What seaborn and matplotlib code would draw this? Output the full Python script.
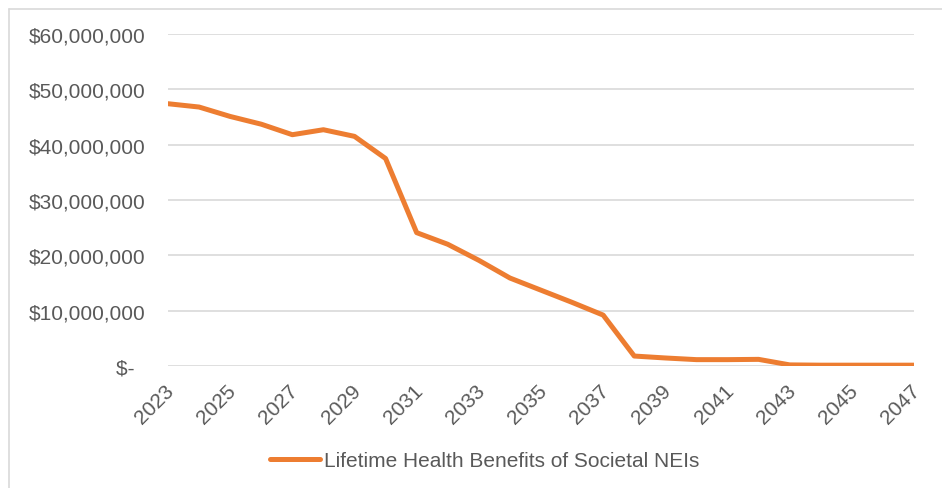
import matplotlib
matplotlib.use("Agg")
import matplotlib.pyplot as plt
import matplotlib.transforms as mtransforms
from matplotlib.lines import Line2D
import seaborn as sns
import pandas as pd

years = list(range(2023, 2048))
benefits = [47.4e6, 46.8e6, 45.1e6, 43.7e6, 41.8e6, 42.7e6, 41.5e6, 37.5e6,
            24.1e6, 22.0e6, 19.1e6, 15.9e6, 13.7e6, 11.5e6, 9.2e6, 1.8e6,
            1.45e6, 1.15e6, 1.15e6, 1.2e6, 0.2e6, 0.15e6, 0.15e6, 0.15e6, 0.15e6]
series_name = "Lifetime Health Benefits of Societal NEIs"
y_ticks = [0, 10e6, 20e6, 30e6, 40e6, 50e6, 60e6]
y_labels = ["$-  ", "$10,000,000", "$20,000,000", "$30,000,000",
            "$40,000,000", "$50,000,000", "$60,000,000"]
x_ticks = list(range(2023, 2048, 2))

sns.set_style("white")
plt.rcParams['font.family'] = ['Liberation Sans', 'DejaVu Sans']

df = pd.DataFrame({"Year": years, "Value": benefits, "Series": series_name})

fig = plt.figure(figsize=(9.42, 4.89), dpi=100)
ax = fig.add_axes([168/942, 1-367/489, (914-168)/942, (367-35)/489])

sns.lineplot(data=df, x="Year", y="Value", hue="Series", palette=["#ED7D31"],
             linewidth=3.6, ax=ax, legend=False)

ax.set_xlim(2023, 2047)
ax.set_ylim(0, 60e6)
ax.set_yticks(y_ticks)
ax.set_yticklabels(y_labels)
ax.set_xticks(x_ticks)
ax.set_xticklabels([str(x) for x in x_ticks], rotation=45, ha='right',
                   va='center', rotation_mode='anchor')
ax.set_xlabel("")
ax.set_ylabel("")
ax.grid(axis='y', color='#d9d9d9', linewidth=1.2)
ax.grid(axis='x', visible=False)
for s in ax.spines.values():
    s.set_visible(False)
ax.tick_params(axis='y', length=0, pad=16, labelsize=15, labelcolor='#595959')
ax.tick_params(axis='x', length=0, pad=15, labelsize=15, labelcolor='#595959')
ax.set_axisbelow(True)

offset = mtransforms.ScaledTranslation(3/100, 0, fig.dpi_scale_trans)
for lbl in ax.get_xticklabels():
    lbl.set_transform(lbl.get_transform() + offset)

handle = Line2D([], [], color="#ED7D31", linewidth=3.6)
fig.legend([handle], [series_name], loc='center',
           bbox_to_anchor=((273+697)/2/942, 1-462/489), frameon=False,
           fontsize=15, labelcolor='#595959', handlelength=2.4,
           handletextpad=0.2)

# chart area border (top and left visible)
fig.add_artist(Line2D([9/942, 9/942], [0, 1-10/489], transform=fig.transFigure,
                      color='#d9d9d9', linewidth=1.2))
fig.add_artist(Line2D([9/942, 1], [1-10/489, 1-10/489], transform=fig.transFigure,
                      color='#d9d9d9', linewidth=1.2))

fig.savefig("out.png", dpi=100)
